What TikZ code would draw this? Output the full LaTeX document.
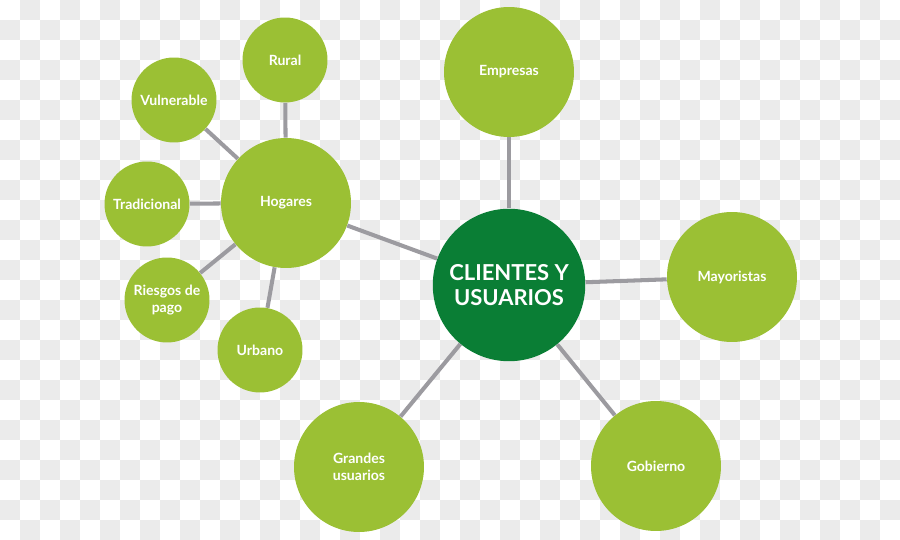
\documentclass[tikz,border=0pt]{standalone}
\usepackage{fontspec}
\setmainfont{Lato}
\usetikzlibrary{positioning}
\definecolor{leafgreen}{HTML}{9BC034}
\definecolor{darkgreen}{HTML}{0A7E35}
\definecolor{linkgray}{HTML}{9C9BA0}
\definecolor{checkgray}{HTML}{EBEBEB}

\begin{document}
\begin{tikzpicture}[x=0.02cm, y=-0.02cm,
  every node/.style={font=\bfseries\fontsize{8}{9.6}\selectfont, text=white, align=center},
  bigleaf/.style={circle, fill=leafgreen, minimum size=2.6cm, inner sep=0pt},
  smallleaf/.style={circle, fill=leafgreen, minimum size=1.7cm, inner sep=0pt},
  link/.style={draw=linkgray, line width=2.3pt}]
  % checker background
  \fill[white] (0,0) rectangle (900,540);
  \foreach \i in {0,...,44}
    \foreach \j in {0,...,26}
      {\pgfmathparse{int(mod(\i+\j,2))}
       \ifnum\pgfmathresult=1 \fill[checkgray] (20*\i,20*\j) rectangle ++(20,20);\fi}
  \useasboundingbox (0,0) rectangle (900,540);

  \node[circle, fill=darkgreen, minimum size=3.05cm, inner sep=0pt,
        font=\bfseries\fontsize{12.5}{14.2}\selectfont] (cu) at (509,285) {CLIENTES Y\\USUARIOS};
  \node[bigleaf] (emp) at (509,72) {Empresas};
  \node[bigleaf] (may) at (732,277) {Mayoristas};
  \node[bigleaf] (gob) at (656,466) {Gobierno};
  \node[bigleaf] (gra) at (359,467) {Grandes\\usuarios};
  \node[bigleaf] (hog) at (286,203) {Hogares};
  \node[smallleaf] (rur) at (285,60) {Rural};
  \node[smallleaf] (vul) at (174,100) {Vulnerable};
  \node[smallleaf] (tra) at (147,204) {Tradicional};
  \node[smallleaf] (rie) at (167,300) {Riesgos de\\pago};
  \node[smallleaf] (urb) at (260,350) {Urbano};

  \draw[link] (cu) -- (emp);
  \draw[link] (cu) -- (may);
  \draw[link] (cu) -- (gob);
  \draw[link] (cu) -- (gra);
  \draw[link] (cu) -- (hog);
  \draw[link] (hog) -- (rur);
  \draw[link] (hog) -- (vul);
  \draw[link] (hog) -- (tra);
  \draw[link] (hog) -- (rie);
  \draw[link] (hog) -- (urb);
\end{tikzpicture}
\end{document}
